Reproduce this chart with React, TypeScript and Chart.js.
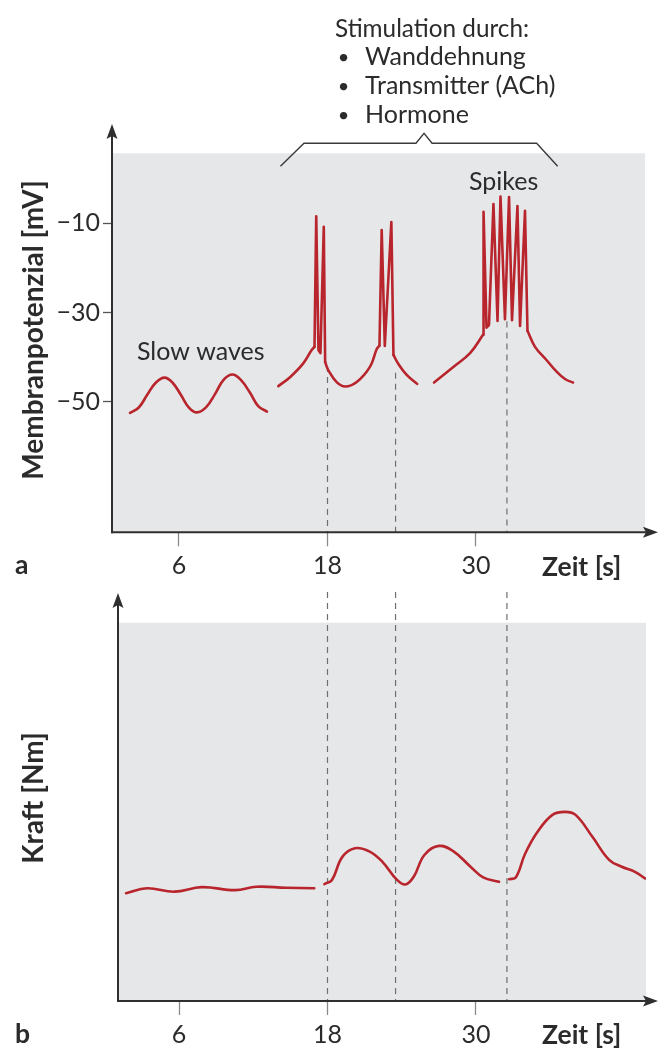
import React, { useEffect, useRef } from "react";
import { Chart, registerables } from "chart.js";

Chart.register(...registerables);

const FONT = "Lato, 'Noto Sans', sans-serif";
const RED = "#b8252d";
const GRAY_BG = "#e6e7e9";
const AXIS = "#2f2f2f";
const TEXT = "#2b2b2b";
const DASH = "#6f6f6f";

// ---------- axis ticks ----------
const timeTicks = [6, 18, 30];
const timeTickLabels = ["6", "18", "30"];
const potentialTicks = [-10, -30, -50];
const potentialTickLabels = ["\u221210", "\u221230", "\u221250"];

// ---------- panel a: membrane potential (mV) over time (s) ----------
const slowWaveTime = [2.04, 2.75, 3.42, 4.1, 4.83, 5.5, 6.16, 6.8, 7.45, 8.2, 8.91, 9.6, 10.32, 11.0, 11.74, 12.4, 13.11];
const slowWaveMV = [-52.5, -51.3, -48.5, -45.8, -44.6, -45.8, -48.5, -51.3, -52.4, -51.2, -48.3, -45.1, -43.9, -45.1, -48.0, -51.0, -52.2];

const burst1Time = [14.03, 14.97, 16.04, 16.72, 16.95, 17.09, 17.27, 17.43, 17.7, 17.81, 18.06, 18.74, 19.43, 20.36, 21.43, 21.98, 22.2, 22.38, 22.63, 23.16, 23.33, 23.72, 24.4, 25.25];
const burst1MV = [-46.5, -44.5, -41.4, -38.4, -37.7, -8.4, -38.4, -39.1, -10.8, -41.1, -42.9, -45.6, -46.6, -45.6, -42.2, -38.2, -37.4, -11.5, -37.5, -9.7, -39.5, -41.5, -44.0, -46.0];
const burst1SpikeRanges: [number, number][] = [[4, 9], [16, 20]];

const burst2Time = [26.61, 28.17, 29.52, 30.57, 30.61, 30.85, 31.05, 31.41, 31.74, 31.98, 32.34, 32.67, 32.91, 33.35, 33.56, 33.96, 34.16, 34.77, 35.71, 36.46, 37.19, 37.84];
const burst2MV = [-45.7, -42.2, -39.1, -35.0, -7.4, -33.4, -32.8, -5.7, -31.9, -4.0, -31.5, -4.1, -31.7, -6.1, -33.0, -7.2, -34.1, -37.7, -40.7, -43.1, -44.9, -45.7];
const burst2SpikeRanges: [number, number][] = [[3, 16]];

// ---------- panel b: force (arbitrary units 0-100) over time (s) ----------
const forceRestTime = [1.72, 3.41, 5.63, 7.83, 10.55, 12.25, 14.62, 16.93];
const forceRestNm = [28.5, 29.8, 28.9, 30.1, 29.3, 30.2, 29.95, 29.8];

const force1Time = [17.75, 18.36, 19.2, 20.22, 21.41, 22.44, 23.62, 24.3, 24.98, 25.83, 27.01, 28.21, 29.56, 30.58, 31.86];
const force1Nm = [30.9, 32.0, 38.1, 40.4, 39.5, 36.8, 32.0, 30.8, 32.9, 38.6, 41.0, 39.5, 35.5, 32.7, 31.5];

const force2Time = [32.68, 33.23, 33.98, 34.99, 36.18, 37.19, 38.05, 39.41, 40.76, 41.78, 42.81, 43.66];
const force2Nm = [32.2, 32.7, 39.0, 44.8, 49.2, 50.0, 49.2, 43.4, 37.3, 35.5, 34.2, 32.4];

// ---------- annotations ----------
const markerTimes = [18, 23.5, 32.5];
const markerStartMV = [-42, -43.5, -32];
const bracketTimes = [14.2, 16.1, 25.15, 25.8, 26.45, 34.9, 36.6];
const bracketOffsets = [13, -10, -10, -20, -10, -10, 13];
const stimulationTitle = "Stimulation durch:";
const stimulationItems = ["Wanddehnung", "Transmitter (ACh)", "Hormone"];

const pts = (xs: number[], ys: number[]) => xs.map((x, i) => ({ x, y: ys[i] }));

const lineDs = (data: { x: number; y: number }[], tension = 0.4) => ({
  data,
  borderColor: RED,
  borderWidth: 2.6,
  pointRadius: 0,
  fill: false,
  tension,
  borderJoinStyle: "round" as const,
  borderCapStyle: "round" as const,
});

// smooth pieces with bezier tension, spike pieces as straight strokes
function burstDatasets(xs: number[], ys: number[], sharp: [number, number][]) {
  const all = pts(xs, ys);
  const out: any[] = [];
  let start = 0;
  sharp.forEach(([a, b]) => {
    if (a > start) out.push(lineDs(all.slice(start, a + 1), 0.4));
    out.push(lineDs(all.slice(a, b + 1), 0));
    start = b;
  });
  if (start < all.length - 1) out.push(lineDs(all.slice(start), 0.4));
  return out;
}

function drawAxes(ctx: CanvasRenderingContext2D, x0: number, y0: number, tipY: number, tipX: number) {
  ctx.save();
  ctx.strokeStyle = AXIS;
  ctx.fillStyle = AXIS;
  ctx.lineWidth = 2;
  ctx.beginPath();
  ctx.moveTo(x0, y0 + 1);
  ctx.lineTo(x0, tipY + 10);
  ctx.stroke();
  ctx.beginPath();
  ctx.moveTo(x0 - 1, y0);
  ctx.lineTo(tipX - 10, y0);
  ctx.stroke();
  ctx.beginPath();
  ctx.moveTo(x0, tipY);
  ctx.lineTo(x0 - 5.5, tipY + 15);
  ctx.lineTo(x0, tipY + 12);
  ctx.lineTo(x0 + 5.5, tipY + 15);
  ctx.closePath();
  ctx.fill();
  ctx.beginPath();
  ctx.moveTo(tipX, y0);
  ctx.lineTo(tipX - 15, y0 - 5.5);
  ctx.lineTo(tipX - 12, y0);
  ctx.lineTo(tipX - 15, y0 + 5.5);
  ctx.closePath();
  ctx.fill();
  ctx.restore();
}

function text(ctx: CanvasRenderingContext2D, s: string, x: number, y: number, font: string, align: CanvasTextAlign = "left") {
  ctx.font = font;
  ctx.textAlign = align;
  ctx.textBaseline = "alphabetic";
  ctx.fillStyle = TEXT;
  ctx.fillText(s, x, y);
}

function vtext(ctx: CanvasRenderingContext2D, s: string, x: number, y: number, font: string) {
  ctx.save();
  ctx.translate(x, y);
  ctx.rotate(-Math.PI / 2);
  text(ctx, s, 0, 0, font, "center");
  ctx.restore();
}

const fillArea = (chart: any) => {
  const { ctx, chartArea: ca } = chart;
  ctx.save();
  ctx.fillStyle = GRAY_BG;
  ctx.fillRect(ca.left, ca.top, ca.right - ca.left, ca.bottom - ca.top);
  ctx.restore();
};

const decoA = {
  id: "decoA",
  beforeDraw: fillArea,
  beforeDatasetsDraw(chart: any) {
    const { ctx, chartArea: ca, scales } = chart;
    ctx.save();
    ctx.strokeStyle = DASH;
    ctx.lineWidth = 1.2;
    ctx.setLineDash([6, 5]);
    markerTimes.forEach((t, i) => {
      const px = scales.x.getPixelForValue(t);
      ctx.beginPath();
      ctx.moveTo(px, scales.y.getPixelForValue(markerStartMV[i]));
      ctx.lineTo(px, ca.bottom);
      ctx.stroke();
    });
    ctx.restore();
  },
  afterDraw(chart: any) {
    const { ctx, chartArea: ca, scales } = chart;
    drawAxes(ctx, ca.left, ca.bottom, 124, 658);
    ctx.save();
    ctx.strokeStyle = "#3a3a3a";
    ctx.lineWidth = 1.4;
    ctx.beginPath();
    bracketTimes.forEach((t, i) => {
      const px = scales.x.getPixelForValue(t);
      const py = ca.top + bracketOffsets[i];
      if (i === 0) ctx.moveTo(px, py);
      else ctx.lineTo(px, py);
    });
    ctx.stroke();
    ctx.restore();
    const reg = `24.3px ${FONT}`;
    const bold = `bold 26.5px ${FONT}`;
    text(ctx, stimulationTitle, 335, 37, reg);
    stimulationItems.forEach((s, i) => {
      const base = 65 + i * 29;
      text(ctx, "\u2022", 343.5, base - 1, `20px ${FONT}`, "center");
      text(ctx, s, 365, base, `25px ${FONT}`);
    });
    text(ctx, "Slow waves", 137, 360, `25px ${FONT}`);
    text(ctx, "Spikes", 469, 190, `25px ${FONT}`);
    text(ctx, "a", 15, 574, bold);
    text(ctx, "Zeit [s]", 542, 576, bold);
    vtext(ctx, "Membranpotenzial [mV]", 43, 330, `bold 28px ${FONT}`);
  },
};

const decoB = {
  id: "decoB",
  beforeDraw: fillArea,
  beforeDatasetsDraw(chart: any) {
    const { ctx, chartArea: ca, scales } = chart;
    ctx.save();
    ctx.strokeStyle = DASH;
    ctx.lineWidth = 1.2;
    ctx.setLineDash([6, 5]);
    markerTimes.forEach((t) => {
      const px = scales.x.getPixelForValue(t);
      ctx.beginPath();
      ctx.moveTo(px, 7);
      ctx.lineTo(px, ca.bottom);
      ctx.stroke();
    });
    ctx.restore();
  },
  afterDraw(chart: any) {
    const { ctx, chartArea: ca } = chart;
    drawAxes(ctx, ca.left, ca.bottom, 8, 658);
    const bold = `bold 26.5px ${FONT}`;
    text(ctx, "b", 15, 458, bold);
    text(ctx, "Zeit [s]", 542, 459, bold);
    vtext(ctx, "Kraft [Nm]", 43, 213, `bold 28px ${FONT}`);
  },
};

const xScale = (min: number, max: number, height: number) => ({
  type: "linear" as const,
  min,
  max,
  afterBuildTicks: (s: any) => {
    s.ticks = timeTicks.map((v) => ({ value: v }));
  },
  afterFit: (s: any) => {
    s.height = height;
  },
  ticks: {
    callback: (_v: any, i: number) => timeTickLabels[i],
    font: { size: 25, family: FONT },
    color: TEXT,
    padding: 5,
    maxRotation: 0,
    autoSkip: false,
  },
  grid: { drawOnChartArea: false, drawTicks: true, tickLength: 14, tickColor: "#8a8a8a", tickWidth: 1.3 },
  border: { display: false },
});

export default function App() {
  const refA = useRef<HTMLCanvasElement>(null);
  const refB = useRef<HTMLCanvasElement>(null);

  useEffect(() => {
    const chartA = new Chart(refA.current!, {
      type: "line",
      data: {
        datasets: [
          lineDs(pts(slowWaveTime, slowWaveMV), 0.4),
          ...burstDatasets(burst1Time, burst1MV, burst1SpikeRanges),
          ...burstDatasets(burst2Time, burst2MV, burst2SpikeRanges),
        ],
      },
      options: {
        responsive: false,
        animation: false,
        devicePixelRatio: 1,
        events: [],
        layout: { padding: { top: 153.3, right: 14, left: 0, bottom: 0 } },
        plugins: { legend: { display: false }, tooltip: { enabled: false } },
        scales: {
          x: xScale(0.586, 43.657, 52.7),
          y: {
            type: "linear",
            min: -79.28,
            max: 5.7,
            afterBuildTicks: (s: any) => {
              s.ticks = potentialTicks.map((v) => ({ value: v }));
            },
            afterFit: (s: any) => {
              s.width = 112;
            },
            ticks: {
              callback: (_v: any, i: number) => potentialTickLabels[i],
              font: { size: 25, family: FONT },
              color: TEXT,
              padding: 3,
              autoSkip: false,
            },
            grid: { drawOnChartArea: false, drawTicks: true, tickLength: 9, tickColor: "#555", tickWidth: 1.3 },
            border: { display: false },
          },
        },
      },
      plugins: [decoA],
    } as any);

    const chartB = new Chart(refB.current!, {
      type: "line",
      data: {
        datasets: [
          lineDs(pts(forceRestTime, forceRestNm), 0.4),
          lineDs(pts(force1Time, force1Nm), 0.4),
          lineDs(pts(force2Time, force2Nm), 0.4),
        ],
      },
      options: {
        responsive: false,
        animation: false,
        devicePixelRatio: 1,
        events: [],
        layout: { padding: { top: 37.7, right: 13, left: 0, bottom: 0 } },
        plugins: { legend: { display: false }, tooltip: { enabled: false } },
        scales: {
          x: xScale(1.07, 43.74, 47),
          y: {
            type: "linear",
            min: 0,
            max: 100,
            afterFit: (s: any) => {
              s.width = 118;
            },
            ticks: { display: false },
            grid: { display: false },
            border: { display: false },
          },
        },
      },
      plugins: [decoB],
    } as any);

    return () => {
      chartA.destroy();
      chartB.destroy();
    };
  }, []);

  return (
    <div style={{ position: "absolute", left: 0, top: 0, width: 659, height: 1048, background: "#fff" }}>
      <canvas ref={refA} width={659} height={585} style={{ position: "absolute", left: 0, top: 0, width: 659, height: 585 }} />
      <canvas ref={refB} width={659} height={463} style={{ position: "absolute", left: 0, top: 585, width: 659, height: 463 }} />
    </div>
  );
}
